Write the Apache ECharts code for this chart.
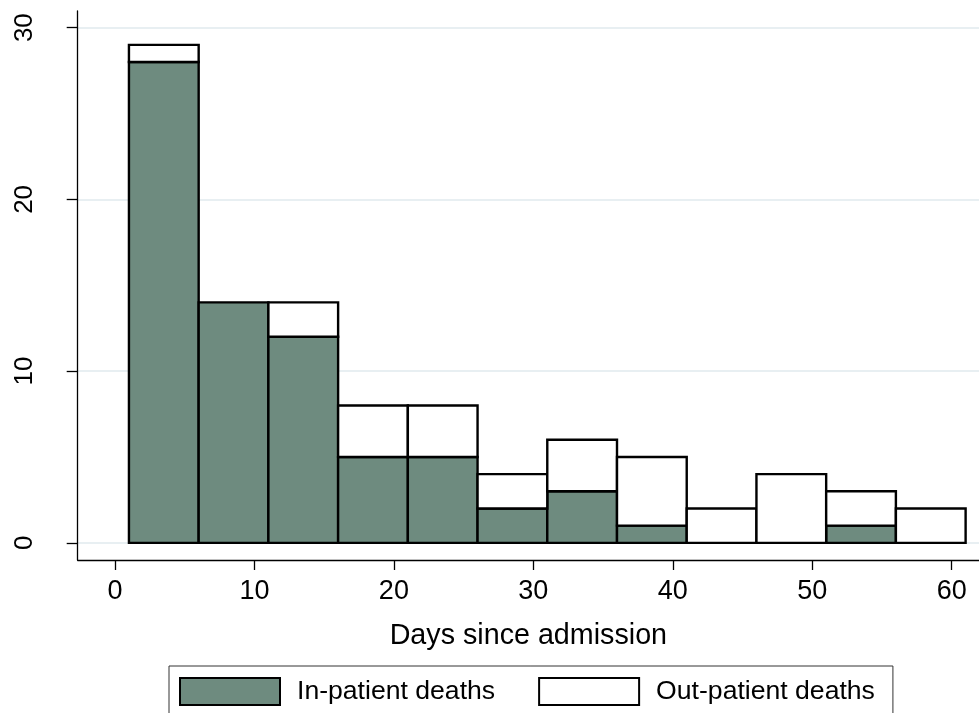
<!DOCTYPE html>
<html>
<head>
<meta charset="utf-8">
<script src="https://cdn.jsdelivr.net/npm/echarts@6/dist/echarts.min.js"></script>
<style>
  html, body { margin: 0; padding: 0; background: #fff; }
  #chart { width: 979px; height: 713px; }
</style>
</head>
<body>
<div id="chart"></div>
<script>
// ---- data ----
const binStarts = [1, 6, 11, 16, 21, 26, 31, 36, 41, 46, 51, 56];
const binWidth = 5;
const inpatientDeaths = [28, 14, 12, 5, 5, 2, 3, 1, 0, 0, 1, 0];
const outpatientDeaths = [1, 0, 2, 3, 3, 2, 3, 4, 2, 4, 2, 2];
const xTicks = [0, 10, 20, 30, 40, 50, 60];
const yTicks = [0, 10, 20, 30];
const seriesNames = ['In-patient deaths', 'Out-patient deaths'];
const xTitle = 'Days since admission';

const FONT = 'Liberation Sans, Arial, Helvetica, sans-serif';
const GREEN = '#6e8b7f';

const inData = binStarts.map((s, i) => [s, s + binWidth, 0, inpatientDeaths[i]]);
const outData = binStarts.map((s, i) => [s, s + binWidth, inpatientDeaths[i], inpatientDeaths[i] + outpatientDeaths[i]]);

function renderBin(params, api) {
  const x0 = api.value(0), x1 = api.value(1), y0 = api.value(2), y1 = api.value(3);
  if (y1 <= y0) return null;
  const p0 = api.coord([x0, y1]);
  const p1 = api.coord([x1, y0]);
  return {
    type: 'rect',
    shape: { x: p0[0], y: p0[1], width: p1[0] - p0[0], height: p1[1] - p0[1] },
    style: api.style()
  };
}

const chart = echarts.init(document.getElementById('chart'), null, { renderer: 'canvas' });
chart.setOption({
  animation: false,
  backgroundColor: '#ffffff',
  grid: { left: 77.7, right: 0, top: 11, bottom: 153, containLabel: false },
  xAxis: {
    type: 'value',
    min: -2.675,
    max: 61.96,
    axisLine: { show: true, onZero: false, lineStyle: { color: '#000', width: 1.3 } },
    axisTick: { show: true, length: 10, customValues: xTicks, lineStyle: { color: '#000', width: 1.3 } },
    axisLabel: { customValues: xTicks, color: '#000', fontFamily: FONT, fontSize: 27, margin: 32, verticalAlign: 'middle' },
    splitLine: { show: false },
    name: xTitle,
    nameLocation: 'middle',
    nameGap: 76,
    nameTextStyle: { color: '#000', fontFamily: FONT, fontSize: 28.7, verticalAlign: 'middle' }
  },
  yAxis: {
    type: 'value',
    min: -1,
    max: 30.97,
    axisLine: { show: true, onZero: false, lineStyle: { color: '#000', width: 1.3 } },
    axisTick: { show: true, length: 11, customValues: yTicks, lineStyle: { color: '#000', width: 1.3 } },
    axisLabel: { customValues: yTicks, rotate: 90, align: 'center', verticalAlign: 'middle', margin: 53, color: '#000', fontFamily: FONT, fontSize: 26 },
    splitLine: { show: true, lineStyle: { color: '#e8eff2', width: 2 } }
  },
  legend: {
    left: 169,
    top: 666,
    orient: 'horizontal',
    padding: [11, 18, 14, 10],
    borderColor: '#333',
    borderWidth: 1,
    itemWidth: 100,
    itemHeight: 27,
    itemGap: 43,
    selectedMode: false,
    textStyle: { color: '#000', fontFamily: FONT, fontSize: 26.6, padding: [0, 0, 0, 12] },
    data: [
      { name: seriesNames[0], icon: 'rect', itemStyle: { color: GREEN, borderColor: '#000', borderWidth: 2 } },
      { name: seriesNames[1], icon: 'rect', itemStyle: { color: '#fff', borderColor: '#000', borderWidth: 2 } }
    ]
  },
  series: [
    {
      name: seriesNames[0],
      type: 'custom',
      renderItem: renderBin,
      encode: { x: [0, 1], y: [2, 3] },
      itemStyle: { color: GREEN, borderColor: '#000', borderWidth: 2.4 },
      data: inData,
      z: 3
    },
    {
      name: seriesNames[1],
      type: 'custom',
      renderItem: renderBin,
      encode: { x: [0, 1], y: [2, 3] },
      itemStyle: { color: '#ffffff', borderColor: '#000', borderWidth: 2.4 },
      data: outData,
      z: 3
    }
  ]
});
</script>
</body>
</html>
